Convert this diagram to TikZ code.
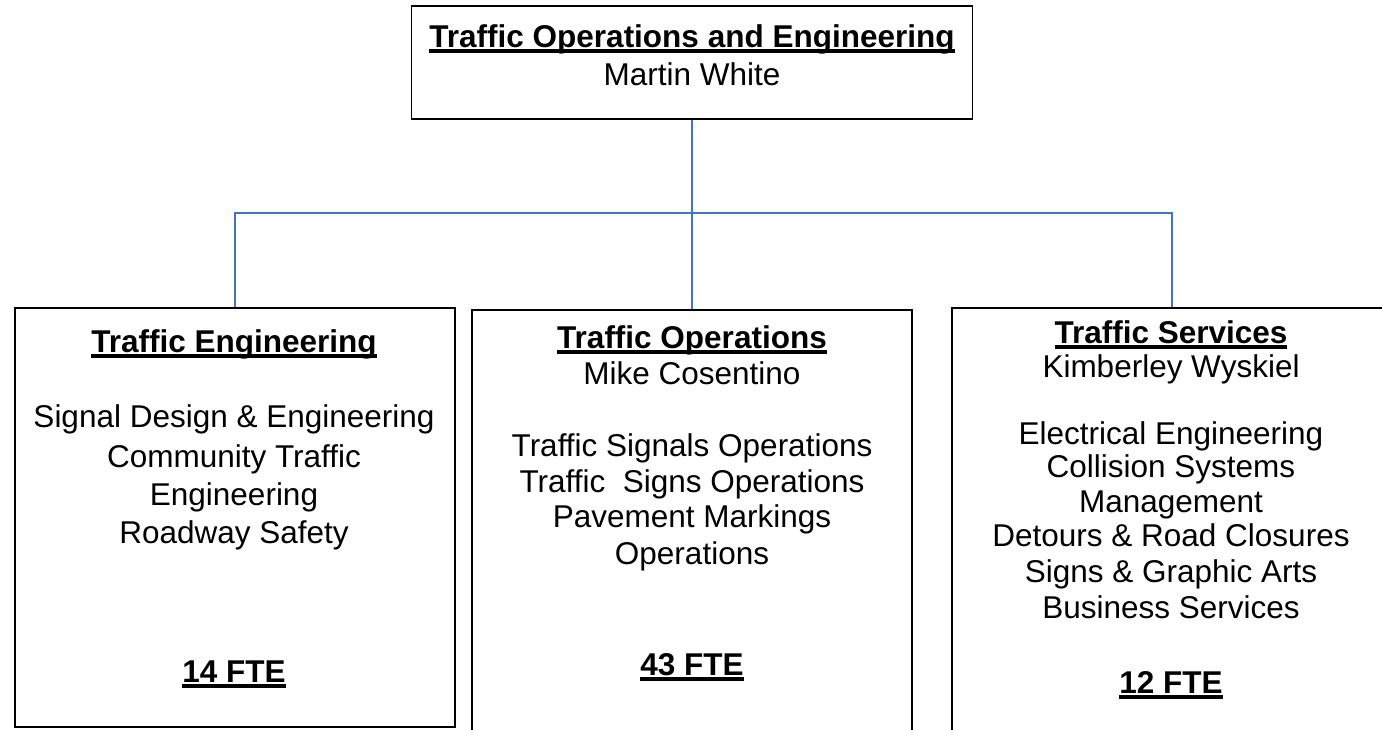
\documentclass[tikz,border=0pt]{standalone}
\usepackage{fontspec}
\setmainfont{Liberation Sans}
\definecolor{linkblue}{RGB}{68,114,196}
\newcommand{\ulhead}[1]{\setbox0\hbox{#1}\rlap{\vrule width\wd0 height -1.5pt depth 5.5pt}\box0}

\begin{document}
\begin{tikzpicture}[x=1pt, y=1pt,
        box/.style={draw=black, line width=1.6pt, inner sep=0pt},
        link/.style={draw=linkblue, line width=1.4pt},
        head/.style={anchor=base, inner sep=0pt, font=\fontsize{31.5}{38}\selectfont\bfseries},
        body/.style={anchor=base, inner sep=0pt, font=\fontsize{31.5}{37}\selectfont}]
    \useasboundingbox (0, 0) rectangle (1382, -729);
    \clip (0, 0) rectangle (1382, -729);

    % boxes
    \node[box, minimum width=561pt, minimum height=113pt] (top) at (692, -62.5) {};
    \node[box, minimum width=440pt, minimum height=419pt] (eng) at (235, -517.5) {};
    \node[box, minimum width=440pt, minimum height=450pt] (ops) at (692, -535) {};
    \node[box, minimum width=440pt, minimum height=452pt] (svc) at (1172, -534) {};

    % connectors
    \coordinate (bus) at (692, -213);
    \draw[link] (top.south) -- (ops.north);
    \draw[link] (eng.north) |- (bus) -| (svc.north);

    % head office
    \node[head] (top-title) at (692, -47) {\ulhead{Traffic Operations and Engineering}};
    \node[body] (top-name) at (692, -85) {Martin White};

    % traffic engineering
    \node[head] (eng-title) at (234, -352) {\ulhead{Traffic Engineering}};
    \node[body] (eng-a) at (234, -427) {Signal Design \& Engineering};
    \node[body] (eng-b) at (234, -467) {Community Traffic};
    \node[body] (eng-c) at (234, -505) {Engineering};
    \node[body] (eng-d) at (234, -543) {Roadway Safety};
    \node[head] (eng-fte) at (234, -682) {\ulhead{14 FTE}};

    % traffic operations
    \node[head] (ops-title) at (692, -348) {\ulhead{Traffic Operations}};
    \node[body] (ops-name) at (692, -384) {Mike Cosentino};
    \node[body] (ops-a) at (692, -456) {Traffic Signals Operations};
    \node[body] (ops-b) at (692, -492) {Traffic~~Signs Operations};
    \node[body] (ops-c) at (692, -527) {Pavement Markings};
    \node[body] (ops-d) at (692, -564) {Operations};
    \node[head] (ops-fte) at (692, -675) {\ulhead{43 FTE}};

    % traffic services
    \node[head] (svc-title) at (1171, -343) {\ulhead{Traffic Services}};
    \node[body] (svc-name) at (1171, -377) {Kimberley Wyskiel};
    \node[body] (svc-a) at (1171, -444) {Electrical Engineering};
    \node[body] (svc-b) at (1171, -477) {Collision Systems};
    \node[body] (svc-c) at (1171, -512) {Management};
    \node[body] (svc-d) at (1171, -546) {Detours \& Road Closures};
    \node[body] (svc-e) at (1171, -582) {Signs \& Graphic Arts};
    \node[body] (svc-f) at (1171, -618) {Business Services};
    \node[head] (svc-fte) at (1171, -693) {\ulhead{12 FTE}};
\end{tikzpicture}
\end{document}
